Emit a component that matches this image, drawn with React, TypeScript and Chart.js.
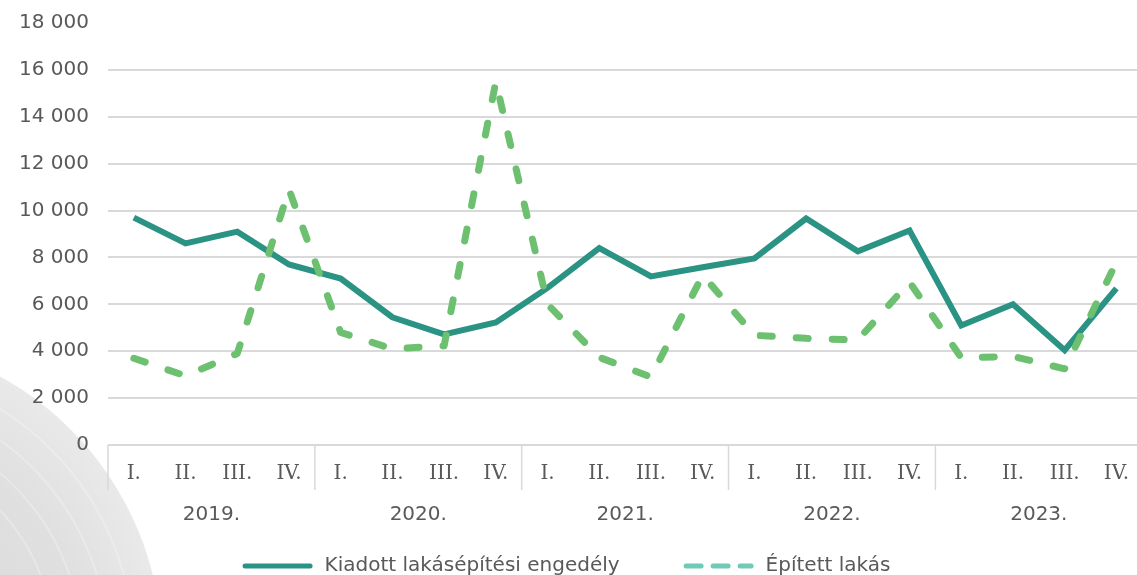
import React, { useEffect, useRef } from 'react';
import { Chart, registerables } from 'chart.js';

Chart.register(...registerables);

const quarterLabels = [
  'I.', 'II.', 'III.', 'IV.',
  'I.', 'II.', 'III.', 'IV.',
  'I.', 'II.', 'III.', 'IV.',
  'I.', 'II.', 'III.', 'IV.',
  'I.', 'II.', 'III.', 'IV.',
];
const yearLabels = ['2019.', '2020.', '2021.', '2022.', '2023.'];

const permits = [
  9700, 8600, 9100, 7700,
  7100, 5450, 4720, 5230,
  6700, 8400, 7190, 7580,
  7960, 9660, 8260, 9150,
  5100, 6000, 4040, 6680,
];
const built = [
  3700, 2950, 3900, 10900,
  4800, 4100, 4230, 15500,
  6000, 3740, 2900, 7250,
  4680, 4550, 4480, 6950,
  3720, 3780, 3250, 7800,
];

const seriesNames = ['Kiadott lakásépítési engedély', 'Épített lakás'];
const yMin = 0;
const yMax = 18000;
const yStep = 2000;

const VIEW_W = 1137;
const VIEW_H = 575;

const solidColor = '#2a9384';
const dashColor = '#6cc070';
const legendDashColor = '#6fcbb8';
const textColor = '#595959';
const gridColor = '#d9d9d9';

const fmt = (v: number) => String(v).replace(/\B(?=(\d{3})+(?!\d))/g, ' ');

const bgPlugin = {
  id: 'bgShape',
  beforeDraw(chart: any) {
    const { ctx } = chart;
    ctx.save();
    const cx = -150, cy = 650, r = 312;
    const g = ctx.createRadialGradient(cx, cy, 0, cx, cy, r);
    g.addColorStop(0, '#d6d6d6');
    g.addColorStop(0.75, '#e0e0e0');
    g.addColorStop(1, '#e9e9e9');
    ctx.fillStyle = g;
    ctx.beginPath();
    ctx.arc(cx, cy, r, 0, Math.PI * 2);
    ctx.fill();
    ctx.strokeStyle = 'rgba(255,255,255,0.25)';
    ctx.lineWidth = 2;
    [205, 232, 258, 284].forEach((rr) => {
      ctx.beginPath();
      ctx.arc(cx, cy, rr, 0, Math.PI * 2);
      ctx.stroke();
    });
    ctx.restore();
  },
};

const yearSepPlugin = {
  id: 'yearSeparators',
  afterDraw(chart: any) {
    const xs = chart.scales.x2;
    const { ctx, chartArea } = chart;
    const n = yearLabels.length;
    const half = n > 1 ? (xs.getPixelForTick(1) - xs.getPixelForTick(0)) / 2 : 0;
    ctx.save();
    ctx.strokeStyle = gridColor;
    ctx.lineWidth = 1.5;
    for (let i = 0; i <= n; i++) {
      const x = i < n ? xs.getPixelForTick(i) - half : xs.getPixelForTick(n - 1) + half;
      ctx.beginPath();
      ctx.moveTo(x, chartArea.bottom);
      ctx.lineTo(x, chartArea.bottom + 45);
      ctx.stroke();
    }
    ctx.restore();
  },
};

const legendPlugin = {
  id: 'customLegend',
  afterDraw(chart: any) {
    const { ctx } = chart;
    ctx.save();
    ctx.font = '20px "DejaVu Sans"';
    ctx.textBaseline = 'middle';
    ctx.textAlign = 'left';
    const lineW = 65;
    const cap = 2.5;
    const gap = 12;
    const itemGap = 64;
    const items = [
      { text: seriesNames[0], color: solidColor, dash: [] as number[] },
      { text: seriesNames[1], color: legendDashColor, dash: [15, 12] },
    ];
    const widths = items.map((it) => ctx.measureText(it.text).width);
    const total =
      items.length * (lineW + 2 * cap + gap) +
      widths.reduce((a, b) => a + b, 0) +
      itemGap * (items.length - 1);
    let x = VIEW_W / 2 - total / 2 - 2;
    const y = chart.height - 9;
    items.forEach((it, i) => {
      ctx.beginPath();
      ctx.setLineDash(it.dash);
      ctx.lineCap = 'round';
      ctx.lineWidth = 5;
      ctx.strokeStyle = it.color;
      ctx.moveTo(x + cap, y);
      ctx.lineTo(x + cap + lineW, y);
      ctx.stroke();
      ctx.setLineDash([]);
      x += lineW + 2 * cap + gap;
      ctx.fillStyle = textColor;
      ctx.fillText(it.text, x, y);
      x += widths[i] + itemGap;
    });
    ctx.restore();
  },
};

export default function App() {
  const canvasRef = useRef<HTMLCanvasElement | null>(null);

  useEffect(() => {
    if (!canvasRef.current) return;
    const chart = new Chart(canvasRef.current, {
      type: 'line',
      data: {
        labels: quarterLabels,
        datasets: [
          {
            label: seriesNames[0],
            data: permits,
            borderColor: solidColor,
            backgroundColor: solidColor,
            borderWidth: 6,
            pointRadius: 0,
            tension: 0,
            fill: false,
            order: 1,
          },
          {
            label: seriesNames[1],
            data: built,
            borderColor: dashColor,
            backgroundColor: dashColor,
            borderWidth: 7,
            borderDash: [12, 24],
            borderCapStyle: 'round',
            borderJoinStyle: 'round',
            pointRadius: 0,
            tension: 0,
            fill: false,
            order: 0,
          },
        ],
      },
      options: {
        responsive: true,
        maintainAspectRatio: false,
        animation: false,
        layout: { padding: { top: 10, left: 8, right: 0, bottom: 48 } },
        plugins: {
          legend: { display: false },
          tooltip: { enabled: false },
        },
        scales: {
          x: {
            type: 'category',
            position: 'bottom',
            weight: 1,
            offset: true,
            grid: { display: false, drawTicks: false },
            border: { display: false },
            ticks: {
              autoSkip: false,
              maxRotation: 0,
              padding: 17,
              color: textColor,
              font: { family: '"DejaVu Serif"', size: 20 },
            },
          },
          x2: {
            type: 'category',
            labels: yearLabels,
            position: 'bottom',
            weight: 2,
            offset: true,
            grid: { display: false, drawTicks: false },
            border: { display: false },
            ticks: {
              autoSkip: false,
              maxRotation: 0,
              padding: 0,
              color: textColor,
              font: { family: '"DejaVu Sans"', size: 20 },
            },
          },
          y: {
            min: yMin,
            max: yMax,
            border: { display: false },
            grid: {
              drawTicks: true,
              tickLength: 8,
              tickColor: 'rgba(0,0,0,0)',
              lineWidth: 2,
              color: (c: any) => (c.tick && c.tick.value === yMax ? 'rgba(0,0,0,0)' : gridColor),
            },
            ticks: {
              stepSize: yStep,
              padding: 11,
              color: textColor,
              font: { family: '"DejaVu Sans"', size: 20 },
              callback: (v: any) => fmt(Number(v)),
            },
          },
        },
      },
      plugins: [bgPlugin, yearSepPlugin, legendPlugin],
    });
    return () => chart.destroy();
  }, []);

  return (
    <div
      style={{
        position: 'fixed',
        left: 0,
        top: 0,
        width: VIEW_W,
        height: VIEW_H,
        overflow: 'hidden',
        background: '#ffffff',
      }}
    >
      <div style={{ position: 'relative', width: 1146, height: VIEW_H }}>
        <canvas ref={canvasRef} />
      </div>
    </div>
  );
}
